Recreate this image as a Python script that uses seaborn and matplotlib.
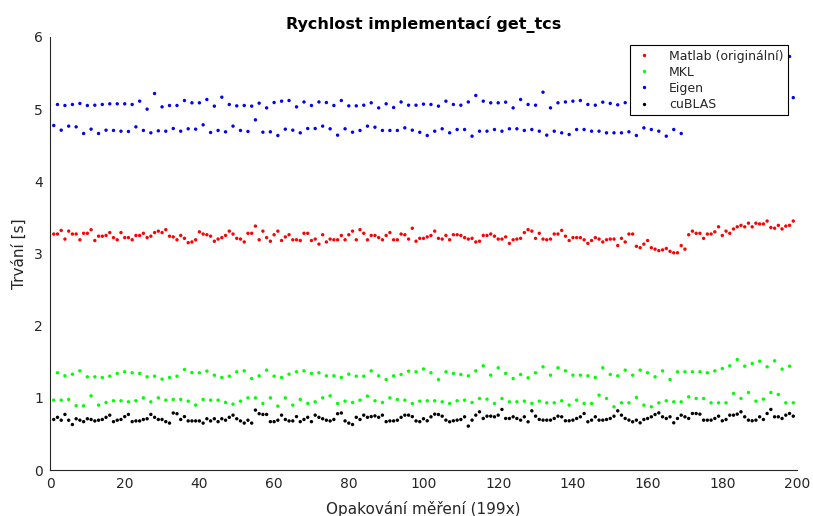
import matplotlib
matplotlib.use('Agg')
import matplotlib.pyplot as plt
import pandas as pd
import seaborn as sns

# ---- data ----
measurements = list(range(1, 200))
series_names = ['Matlab (originální)', 'MKL', 'Eigen', 'cuBLAS']
series_colors = ['#ff0000', '#00ff00', '#0000ff', '#000000']

matlab = [
    3.27, 3.27, 3.32, 3.20, 3.31, 3.27, 3.27, 3.19, 3.28, 3.28,
    3.33, 3.18, 3.24, 3.24, 3.25, 3.29, 3.22, 3.19, 3.29, 3.22,
    3.22, 3.19, 3.25, 3.25, 3.28, 3.22, 3.24, 3.29, 3.31, 3.29,
    3.33, 3.24, 3.23, 3.19, 3.25, 3.21, 3.15, 3.16, 3.19, 3.30,
    3.27, 3.26, 3.24, 3.17, 3.20, 3.22, 3.25, 3.31, 3.27, 3.21,
    3.20, 3.16, 3.28, 3.28, 3.38, 3.19, 3.31, 3.22, 3.17, 3.26,
    3.31, 3.18, 3.23, 3.26, 3.19, 3.19, 3.18, 3.28, 3.28, 3.18,
    3.20, 3.13, 3.26, 3.16, 3.20, 3.19, 3.19, 3.25, 3.19, 3.26,
    3.31, 3.19, 3.33, 3.28, 3.19, 3.25, 3.25, 3.22, 3.19, 3.25,
    3.29, 3.19, 3.19, 3.27, 3.26, 3.20, 3.35, 3.17, 3.21, 3.21,
    3.23, 3.25, 3.31, 3.21, 3.20, 3.25, 3.19, 3.26, 3.26, 3.25,
    3.22, 3.20, 3.21, 3.16, 3.17, 3.25, 3.25, 3.27, 3.24, 3.20,
    3.20, 3.23, 3.14, 3.19, 3.20, 3.21, 3.29, 3.33, 3.31, 3.21,
    3.28, 3.20, 3.19, 3.20, 3.27, 3.27, 3.32, 3.24, 3.18, 3.22,
    3.22, 3.22, 3.19, 3.14, 3.18, 3.22, 3.20, 3.16, 3.19, 3.20,
    3.20, 3.11, 3.21, 3.16, 3.27, 3.27, 3.10, 3.08, 3.13, 3.18,
    3.08, 3.06, 3.04, 3.05, 3.07, 3.03, 3.01, 3.01, 3.11, 3.06,
    3.26, 3.31, 3.28, 3.28, 3.21, 3.27, 3.27, 3.30, 3.37, 3.25,
    3.31, 3.28, 3.34, 3.37, 3.39, 3.37, 3.42, 3.37, 3.42, 3.41,
    3.41, 3.45, 3.36, 3.35, 3.39, 3.34, 3.38, 3.39, 3.45,
]

mkl = [
    0.968, 1.347, 0.968, 1.305, 0.977, 1.328, 0.890, 1.374, 0.890, 1.291,
    1.028, 1.291, 0.899, 1.282, 0.936, 1.300, 0.959, 1.338, 0.959, 1.361,
    0.945, 1.347, 0.959, 1.338, 1.000, 1.291, 0.945, 1.300, 1.000, 1.259,
    0.968, 1.282, 0.977, 1.300, 0.977, 1.393, 0.954, 1.351, 0.899, 1.347,
    0.977, 1.370, 0.968, 1.314, 0.968, 1.282, 0.936, 1.300, 0.913, 1.361,
    0.954, 1.374, 1.000, 1.268, 1.000, 1.305, 0.922, 1.384, 1.000, 1.300,
    0.885, 1.282, 1.000, 1.328, 0.899, 1.361, 0.977, 1.374, 0.922, 1.338,
    0.945, 1.347, 1.000, 1.305, 1.028, 1.305, 0.922, 1.282, 0.954, 1.328,
    0.936, 1.300, 0.968, 1.300, 1.024, 1.374, 0.959, 1.305, 0.936, 1.254,
    1.000, 1.305, 0.977, 1.324, 0.968, 1.370, 0.922, 1.361, 0.954, 1.400,
    0.959, 1.347, 0.959, 1.254, 0.945, 1.361, 0.922, 1.338, 0.959, 1.324,
    0.968, 1.305, 0.936, 1.374, 0.991, 1.444, 0.982, 1.314, 0.922, 1.416,
    0.991, 1.338, 0.945, 1.268, 0.945, 1.324, 0.954, 1.277, 0.922, 1.347,
    0.954, 1.430, 0.931, 1.314, 0.931, 1.416, 0.959, 1.374, 0.899, 1.314,
    0.968, 1.314, 0.922, 1.305, 0.922, 1.282, 1.037, 1.416, 0.991, 1.324,
    0.876, 1.305, 0.931, 1.384, 0.931, 1.314, 1.005, 1.384, 0.899, 1.347,
    0.876, 1.291, 0.931, 1.374, 0.959, 1.254, 0.945, 1.361, 0.945, 1.361,
    1.014, 1.361, 0.991, 1.361, 0.991, 1.347, 0.931, 1.374, 0.931, 1.407,
    0.931, 1.444, 1.061, 1.531, 0.991, 1.439, 1.074, 1.476, 0.954, 1.508,
    0.982, 1.430, 1.074, 1.513, 1.047, 1.398, 0.931, 1.439, 0.931,
]

eigen = [
    4.774, 5.065, 4.709, 5.051, 4.765, 5.065, 4.755, 5.079, 4.663, 5.051,
    4.723, 5.055, 4.663, 5.065, 4.709, 5.074, 4.705, 5.074, 4.695, 5.074,
    4.691, 5.065, 4.755, 5.111, 4.705, 5.000, 4.672, 5.217, 4.700, 5.032,
    4.695, 5.051, 4.732, 5.051, 4.695, 5.120, 4.728, 5.088, 4.723, 5.088,
    4.783, 5.134, 4.677, 5.042, 4.705, 5.166, 4.686, 5.065, 4.765, 5.046,
    4.705, 5.051, 4.691, 5.042, 4.852, 5.083, 4.681, 5.018, 4.686, 5.092,
    4.635, 5.111, 4.723, 5.120, 4.709, 5.032, 4.672, 5.100, 4.732, 5.051,
    4.732, 5.100, 4.765, 5.092, 4.728, 5.051, 4.640, 5.120, 4.728, 5.046,
    4.681, 5.046, 4.705, 5.055, 4.765, 5.088, 4.750, 5.018, 4.705, 5.074,
    4.705, 5.023, 4.705, 5.100, 4.741, 5.055, 4.709, 5.055, 4.680, 5.070,
    4.635, 5.065, 4.695, 5.042, 4.728, 5.111, 4.672, 5.065, 4.718, 5.055,
    4.718, 5.100, 4.626, 5.190, 4.695, 5.111, 4.695, 5.088, 4.718, 5.088,
    4.695, 5.097, 4.728, 5.018, 4.728, 5.134, 4.705, 5.065, 4.718, 5.055,
    4.695, 5.235, 4.640, 5.018, 4.695, 5.088, 4.672, 5.100, 4.649, 5.111,
    4.718, 5.120, 4.718, 5.065, 4.695, 5.055, 4.695, 5.097, 4.672, 5.080,
    4.672, 5.060, 4.672, 5.090, 4.686, 5.050, 4.635, 5.110, 4.741, 5.070,
    4.718, 5.060, 4.695, 5.080, 4.626, 5.100, 4.718, 5.050, 4.663, 5.070,
    5.090, 5.060, 5.120, 5.080, 5.050, 5.100, 5.070, 5.090, 5.060, 5.110,
    5.080, 5.070, 5.100, 5.050, 5.090, 5.120, 5.080, 5.060, 5.100, 5.070,
    5.090, 5.110, 5.060, 5.080, 5.100, 5.070, 5.090, 5.730, 5.160,
]

cublas = [
    0.70, 0.73, 0.69, 0.77, 0.69, 0.63, 0.71, 0.69, 0.67, 0.71,
    0.70, 0.68, 0.69, 0.70, 0.73, 0.76, 0.67, 0.69, 0.70, 0.74,
    0.77, 0.67, 0.68, 0.68, 0.70, 0.71, 0.77, 0.73, 0.70, 0.70,
    0.67, 0.65, 0.79, 0.78, 0.70, 0.74, 0.68, 0.68, 0.68, 0.68,
    0.65, 0.71, 0.68, 0.71, 0.67, 0.71, 0.69, 0.73, 0.76, 0.71,
    0.68, 0.65, 0.69, 0.65, 0.83, 0.78, 0.77, 0.77, 0.67, 0.67,
    0.69, 0.76, 0.70, 0.68, 0.68, 0.74, 0.67, 0.70, 0.73, 0.67,
    0.76, 0.73, 0.71, 0.69, 0.68, 0.70, 0.78, 0.79, 0.68, 0.65,
    0.63, 0.73, 0.70, 0.76, 0.73, 0.74, 0.75, 0.73, 0.76, 0.67,
    0.68, 0.68, 0.69, 0.73, 0.76, 0.76, 0.74, 0.68, 0.67, 0.71,
    0.682, 0.737, 0.774, 0.769, 0.746, 0.691, 0.668, 0.682, 0.691, 0.700,
    0.737, 0.608, 0.691, 0.760, 0.806, 0.714, 0.746, 0.746, 0.737, 0.760,
    0.839, 0.714, 0.714, 0.737, 0.714, 0.691, 0.737, 0.668, 0.820, 0.746,
    0.700, 0.691, 0.691, 0.691, 0.714, 0.746, 0.737, 0.682, 0.682, 0.691,
    0.714, 0.737, 0.783, 0.668, 0.691, 0.737, 0.691, 0.691, 0.700, 0.714,
    0.746, 0.820, 0.760, 0.714, 0.691, 0.668, 0.691, 0.654, 0.700, 0.714,
    0.737, 0.769, 0.792, 0.737, 0.714, 0.737, 0.654, 0.714, 0.760, 0.737,
    0.714, 0.783, 0.783, 0.774, 0.691, 0.691, 0.691, 0.714, 0.746, 0.682,
    0.700, 0.760, 0.760, 0.774, 0.806, 0.737, 0.691, 0.682, 0.691, 0.737,
    0.700, 0.783, 0.839, 0.737, 0.737, 0.714, 0.760, 0.783, 0.746,
]

x_ticks = [0, 20, 40, 60, 80, 100, 120, 140, 160, 180, 200]
y_ticks = [0, 1, 2, 3, 4, 5, 6]
title_text = 'Rychlost implementací get_tcs'
x_label = 'Opakování měření (199x)'
y_label = 'Trvání [s]'

# ---- long-form table ----
frames = []
for name, vals in zip(series_names, [matlab, mkl, eigen, cublas]):
    frames.append(pd.DataFrame({'x': measurements, 't': vals, 'series': name}))
df = pd.concat(frames, ignore_index=True)

sns.set_style('white')
plt.rcParams['font.family'] = ['DejaVu Sans']
axis_color = '#262626'

fig = plt.figure(figsize=(8.13, 5.16), dpi=100)
ax = fig.add_axes([50 / 813, 46 / 516, 747 / 813, 433 / 516])

sns.scatterplot(data=df, x='x', y='t', hue='series', hue_order=series_names,
                palette=series_colors, s=6, linewidth=0, ax=ax, legend=True)

ax.set_xlim(0, 200)
ax.set_ylim(0, 6)
ax.set_xticks(x_ticks)
ax.set_yticks(y_ticks)
ax.tick_params(direction='in', length=4, width=0.8, colors=axis_color,
               labelsize=10, labelcolor=axis_color, pad=5)
for side in ['top', 'right']:
    ax.spines[side].set_visible(False)
for side in ['left', 'bottom']:
    ax.spines[side].set_color(axis_color)
    ax.spines[side].set_linewidth(0.8)

ax.set_title(title_text, fontsize=11.5, fontweight='bold', color='black', pad=6)
ax.set_xlabel(x_label, fontsize=11, color=axis_color, labelpad=7)
ax.set_ylabel(y_label, fontsize=11, color=axis_color, labelpad=5)

handles, labels = ax.get_legend_handles_labels()
leg = ax.legend(handles, labels, loc='upper right', bbox_to_anchor=(0.988, 0.981),
                frameon=True, fancybox=False, framealpha=1, edgecolor='black',
                fontsize=9, handlelength=1.6, handletextpad=1.2, labelspacing=0.25,
                borderpad=0.35, borderaxespad=0)
leg.get_frame().set_linewidth(0.8)

fig.savefig('out.png', dpi=100, facecolor='white')
